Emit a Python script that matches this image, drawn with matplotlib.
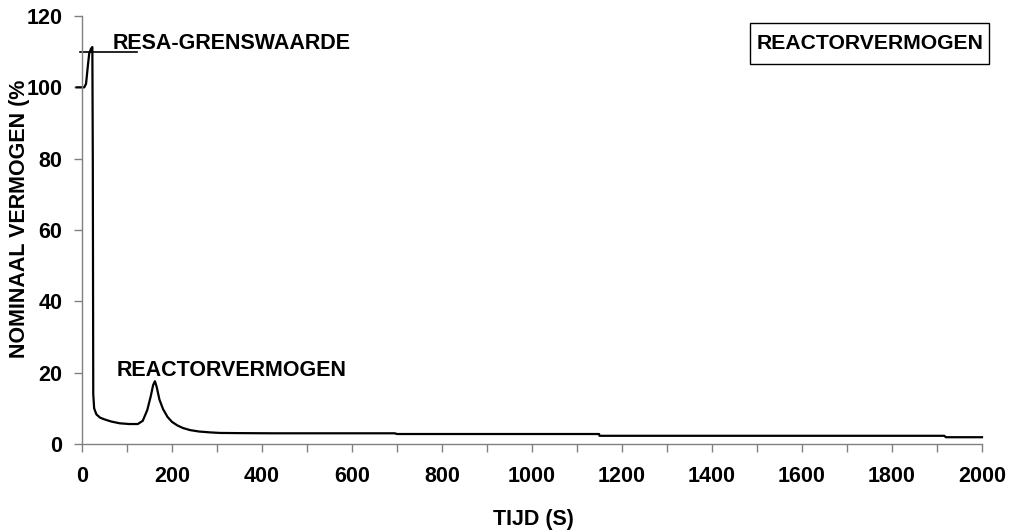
import matplotlib.pyplot as plt
from matplotlib.patches import Rectangle
import numpy as np

# tijd (s) en reactorvermogen (% nominaal)
tijd = [-12, 5, 9, 13, 16, 20, 23, 24, 25, 27, 32, 40, 50, 65, 84, 105, 124, 135,
        145, 153, 158, 162, 166, 172, 180, 190, 200, 212, 224, 240, 260, 285, 307,
        350, 424, 500, 600, 695, 700, 1149, 1150, 1916, 1920, 2000]
vermogen = [100.0, 100.0, 101.0, 106.0, 109.5, 110.8, 111.3, 80.0, 14.0, 10.0, 8.3, 7.4,
            6.9, 6.3, 5.8, 5.6, 5.6, 6.5, 9.5, 13.5, 16.5, 17.6, 16.0, 12.5, 9.8,
            7.6, 6.2, 5.2, 4.5, 3.9, 3.5, 3.25, 3.1, 3.05, 3.0, 3.0, 3.0, 3.0, 2.8,
            2.8, 2.3, 2.3, 1.9, 1.9]

resa_tijd = [-5, 122]
resa_grens = [110, 110]

x_ticks = np.arange(0, 2001, 200)
y_ticks = np.arange(0, 121, 20)

plt.rcParams['font.family'] = ['Liberation Sans', 'DejaVu Sans']
plt.rcParams['font.weight'] = 'bold'

W, H = 1010, 532
fig = plt.figure(figsize=(W / 100, H / 100), dpi=100)
ax = fig.add_axes([82 / W, 1 - 444 / H, 900 / W, 428 / H])

ax.plot(tijd, vermogen, color='black', linewidth=1.6, clip_on=False)
ax.plot(resa_tijd, resa_grens, color='black', linewidth=1.2, clip_on=False)

ax.set_xlim(0, 2000)
ax.set_ylim(0, 120)
ax.set_xticks(x_ticks)
ax.set_xticks(np.arange(0, 2001, 100), minor=True)
ax.set_yticks(y_ticks)

for side in ['top', 'right']:
    ax.spines[side].set_visible(False)
for side in ['left', 'bottom']:
    ax.spines[side].set_color('#808080')
    ax.spines[side].set_linewidth(1.0)

ax.tick_params(axis='both', which='both', direction='out', color='#808080',
               labelsize=15.5, width=1.0)
ax.tick_params(axis='x', which='both', length=6, pad=10)
ax.tick_params(axis='y', length=6, pad=8)
for lbl in ax.get_xticklabels() + ax.get_yticklabels():
    lbl.set_fontweight('bold')

fig.text(533 / W, 1 - 519 / H, 'TIJD (S)', fontsize=15.5, fontweight='bold',
         ha='center', va='center')
fig.text(20 / W, 1 - 80 / H, 'NOMINAAL VERMOGEN (%', rotation=90, fontsize=15.5,
         fontweight='bold', ha='center', va='top')

ax.text(67, 112.4, 'RESA-GRENSWAARDE', fontsize=15.5, fontweight='bold',
        ha='left', va='center')
ax.text(78, 20.7, 'REACTORVERMOGEN', fontsize=15.5, fontweight='bold',
        ha='left', va='center')

# kader rechtsboven
fig.patches.append(Rectangle((750 / W, 1 - 64 / H), 239 / W, 41 / H,
                             transform=fig.transFigure, facecolor='white',
                             edgecolor='black', linewidth=1.0))
fig.text(870 / W, 1 - 44 / H, 'REACTORVERMOGEN', fontsize=15.2, fontweight='bold',
         ha='center', va='center')

fig.savefig('out.png', dpi=100)
